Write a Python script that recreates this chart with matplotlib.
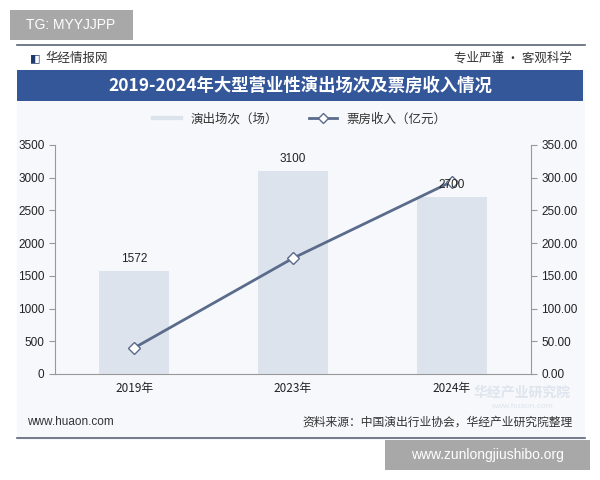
import matplotlib
matplotlib.use("Agg")
import matplotlib.pyplot as plt
from matplotlib.patches import Rectangle
from matplotlib.lines import Line2D

plt.rcParams['font.family'] = ['Liberation Sans', 'Noto Sans CJK SC', 'DejaVu Sans']

years = ["2019年", "2023年", "2024年"]
shows = [1572, 3100, 2700]
revenue = [40.0, 177.0, 294.0]
left_ticks = [0, 500, 1000, 1500, 2000, 2500, 3000, 3500]
right_ticks = [0, 50, 100, 150, 200, 250, 300, 350]

W, H = 600, 480
fig = plt.figure(figsize=(6, 4.8), dpi=100)
fig.patch.set_facecolor("white")

def fx(px):
    return px / W

def fy(py):
    return 1 - py / H

# chart panel background
fig.add_artist(Rectangle((fx(17), fy(440)), fx(568), (440 - 45) / H, transform=fig.transFigure,
                         facecolor="#f6f8fb", edgecolor="none", zorder=0))
# top and bottom rules
fig.add_artist(Line2D([fx(17), fx(585)], [fy(45), fy(45)], transform=fig.transFigure, color="#5a6478", lw=1.2))
fig.add_artist(Line2D([fx(17), fx(585)], [fy(438), fy(438)], transform=fig.transFigure, color="#5a6478", lw=1.2))
# header strip
fig.add_artist(Rectangle((fx(17), fy(70)), fx(568), 24 / H, transform=fig.transFigure,
                         facecolor="#ffffff", edgecolor="none", zorder=0.5))
fig.text(fx(30), fy(58), "◧", fontsize=8, color="#1f3a6e", va="center", ha="left", family=['DejaVu Sans'])
fig.text(fx(45), fy(58), "华经情报网", fontsize=9, color="#333333", va="center", ha="left",
         family=['Noto Sans CJK SC'])
fig.text(fx(572), fy(58), "专业严谨 • 客观科学", fontsize=9, color="#333333", va="center", ha="right",
         family=['Noto Sans CJK SC', 'DejaVu Sans'])
# title banner
fig.add_artist(Rectangle((fx(17), fy(101)), fx(566), 31 / H, transform=fig.transFigure,
                         facecolor="#34579a", edgecolor="none", zorder=1))
fig.text(fx(300), fy(86), "2019-2024年大型营业性演出场次及票房收入情况", fontsize=12.5, color="white",
         weight="bold", va="center", ha="center", family=['Noto Sans CJK SC'], zorder=2)

# footer
fig.text(fx(27), fy(422), "www.huaon.com", fontsize=8.5, color="#333333", va="center", ha="left")
fig.text(fx(573), fy(422), "资料来源：中国演出行业协会，华经产业研究院整理", fontsize=8.5, color="#333333",
         va="center", ha="right", family=['Noto Sans CJK SC'])

# faint watermark logo
fig.text(fx(522), fy(393), "华经产业研究院", fontsize=10, color="#dfe5ee", va="center", ha="center",
         weight="bold", family=['Noto Sans CJK SC'], zorder=0.2)
fig.text(fx(522), fy(406), "www.huaon.com", fontsize=6, color="#dfe5ee", va="center", ha="center", zorder=0.2)

# axes
ax = fig.add_axes([fx(55), fy(374), fx(531 - 55), (374 - 145) / H])
ax.set_facecolor("none")
x = list(range(len(years)))
bars = ax.bar(x, shows, width=0.44, color="#dde3ec", edgecolor="none", zorder=2)
ax.set_xlim(-0.5, 2.5)
ax.set_ylim(0, 3500)
ax.set_yticks(left_ticks)
ax.set_xticks(x)
ax.set_xticklabels(years, family=['Noto Sans CJK SC'], fontsize=8.5, color="#222222")
ax.tick_params(axis='y', labelsize=8.5, colors="#222222", length=4, width=0.8)
ax.tick_params(axis='y', color="#999999")
ax.tick_params(axis='x', length=0, pad=6)
for s in ["top", "right"]:
    ax.spines[s].set_visible(False)
ax.spines["left"].set_color("#999999")
ax.spines["bottom"].set_color("#999999")

ax2 = ax.twinx()
ax2.set_ylim(0, 350)
ax2.set_yticks(right_ticks)
ax2.set_yticklabels([f"{t:.2f}" for t in right_ticks])
ax2.plot(x, revenue, color="#5a6b8c", lw=2, marker="D", markersize=6,
         markerfacecolor="white", markeredgecolor="#5a6b8c", markeredgewidth=1, zorder=3)
ax2.tick_params(axis='y', labelsize=8.5, labelcolor="#222222", color="#999999", length=4, width=0.8)
for s in ["top", "left", "bottom"]:
    ax2.spines[s].set_visible(False)
ax2.spines["right"].set_color("#999999")

# bar value labels drawn above the line
for xi, v in zip(x, shows):
    ax2.text(xi, v + 100, str(v), ha="center", va="bottom", fontsize=8.5, color="#222222",
             zorder=5, transform=ax.transData)

# legend
handles = [Line2D([], [], color="#dde3ec", lw=3),
           Line2D([], [], color="#5a6b8c", lw=2, marker="D", markersize=5,
                  markerfacecolor="white", markeredgecolor="#5a6b8c")]
fig.legend(handles, ["演出场次（场）", "票房收入（亿元）"], loc="center", bbox_to_anchor=(fx(300), fy(119)),
           ncol=2, frameon=False, prop={'family': ['Noto Sans CJK SC'], 'size': 9},
           handlelength=2.2, columnspacing=2.5, labelcolor="#333333")

# watermark boxes
fig.add_artist(Rectangle((fx(10), fy(40)), fx(123), 30 / H, transform=fig.transFigure,
                         facecolor="#a8a8a8", edgecolor="none", zorder=3))
fig.text(fx(71), fy(25), "TG: MYYJJPP", fontsize=10, color="white", va="center", ha="center", zorder=4)
fig.add_artist(Rectangle((fx(385), fy(470)), fx(205), 30 / H, transform=fig.transFigure,
                         facecolor="#a8a8a8", edgecolor="none", zorder=3))
fig.text(fx(487), fy(455), "www.zunlongjiushibo.org", fontsize=10, color="white", va="center", ha="center", zorder=4)

fig.savefig("out.png", dpi=100)
